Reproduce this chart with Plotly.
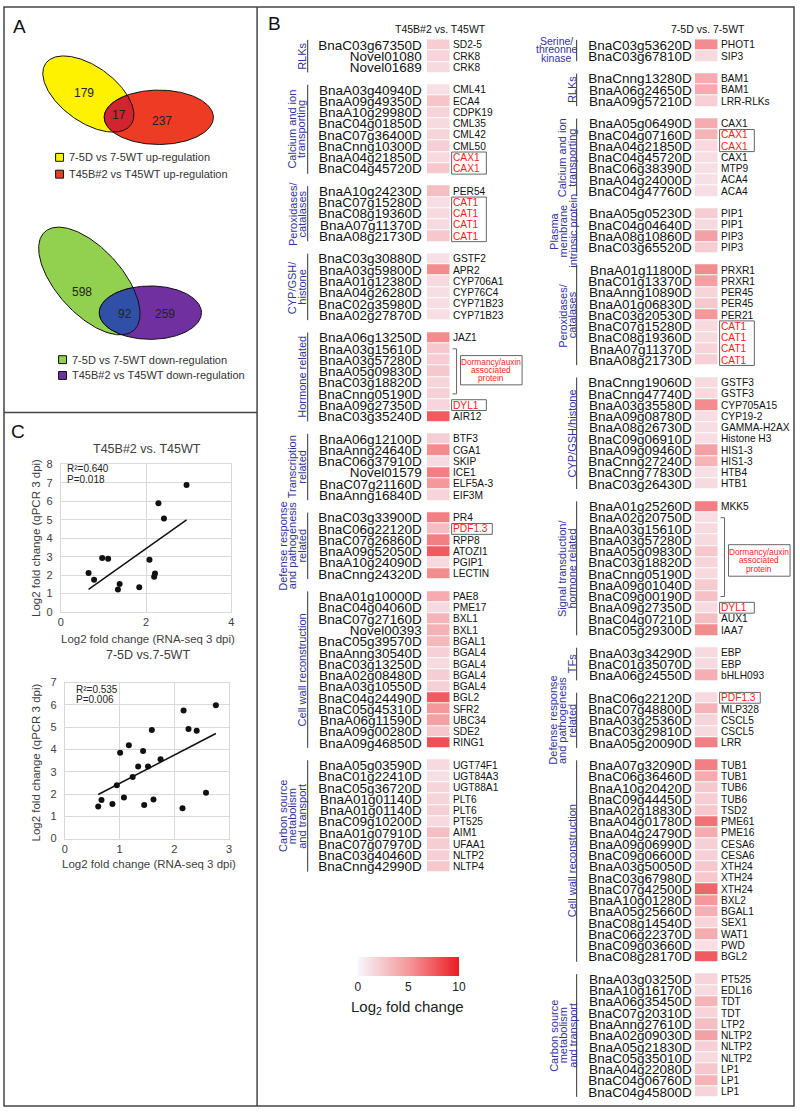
import numpy as np
import plotly.graph_objects as go

W, H = 800, 1115
ROW = 11.38          # row pitch of the heatmaps (px)
TOP = 33.6           # top edge of first heatmap slot (px)

# ---------------- data ----------------
UP_COUNTS = [179, 17, 237]
DOWN_COUNTS = [598, 92, 259]
UP_LEGEND = ["7-5D vs 7-5WT up-regulation", "T45B#2 vs T45WT up-regulation"]
DOWN_LEGEND = ["7-5D vs 7-5WT down-regulation", "T45B#2 vs T45WT down-regulation"]

L_TITLE = "T45B#2 vs. T45WT"
L_SIZES = [3, 8, 5, 6, 8, 6, 6, 14, 10]
L_GROUPS = [["RLKs"], ["Calcium and ion", "transporting"], ["Peroxidases/", "catalases"],
            ["CYP/GSH/", "histone"], ["Hormone related"], ["Transcription", "related"],
            ["Defense response", "and pathogenesis", "related"], ["Cell wall reconstruction"],
            ["Carbon source", "metabolism", "and transport"]]
L_GENES = [
    "BnaC03g67350D", "Novel01080", "Novel01689",
    "BnaA03g40940D", "BnaA09g49350D", "BnaA10g29980D", "BnaC04g01850D", "BnaC07g36400D",
    "BnaCnng10300D", "BnaA04g21850D", "BnaC04g45720D",
    "BnaA10g24230D", "BnaC07g15280D", "BnaC08g19360D", "BnaA07g11370D", "BnaA08g21730D",
    "BnaC03g30880D", "BnaA03g59800D", "BnaA01g12380D", "BnaA04g26280D", "BnaC02g35980D", "BnaA02g27870D",
    "BnaA06g13250D", "BnaA03g15610D", "BnaA03g57280D", "BnaA05g09830D", "BnaC03g18820D",
    "BnaCnng05190D", "BnaA09g27350D", "BnaC03g35240D",
    "BnaA06g12100D", "BnaAnng24640D", "BnaC06g37910D", "Novel01579", "BnaC07g21160D", "BnaAnng16840D",
    "BnaC03g33900D", "BnaC06g22120D", "BnaC07g26860D", "BnaA09g52050D", "BnaA10g24090D", "BnaCnng24320D",
    "BnaA01g10000D", "BnaC04g04060D", "BnaC07g27160D", "Novel00393", "BnaC05g39570D", "BnaAnng30540D",
    "BnaC03g13250D", "BnaA02g08480D", "BnaA03g10550D", "BnaC04g24490D", "BnaC05g45310D", "BnaA06g11590D",
    "BnaA09g00280D", "BnaA09g46850D",
    "BnaA05g03590D", "BnaC01g22410D", "BnaC05g36720D", "BnaA01g01140D", "BnaA01g01140D", "BnaC09g10200D",
    "BnaA01g07910D", "BnaC07g07970D", "BnaC03g40460D", "BnaCnng42990D",
]
L_NAMES = [
    "SD2-5", "CRK8", "CRK8",
    "CML41", "ECA4", "CDPK19", "CML35", "CML42", "CML50", "CAX1", "CAX1",
    "PER54", "CAT1", "CAT1", "CAT1", "CAT1",
    "GSTF2", "APR2", "CYP706A1", "CYP76C4", "CYP71B23", "CYP71B23",
    "JAZ1", "", "", "", "", "", "DYL1", "AIR12",
    "BTF3", "CGA1", "SKIP", "ICE1", "ELF5A-3", "EIF3M",
    "PR4", "PDF1.3", "RPP8", "ATOZI1", "PGIP1", "LECTIN",
    "PAE8", "PME17", "BXL1", "BXL1", "BGAL1", "BGAL4", "BGAL4", "BGAL4", "BGAL4", "BGL2", "SFR2",
    "UBC34", "SDE2", "RING1",
    "UGT74F1", "UGT84A3", "UGT88A1", "PLT6", "PLT6", "PT525", "AIM1", "UFAA1", "NLTP2", "NLTP4",
]
L_FC = [
    2.2, 1.8, 1.5,
    1.2, 2.6, 1.8, 1.5, 1.8, 2.0, 1.5, 2.5,
    3.0, 1.3, 1.5, 1.5, 2.5,
    1.2, 5.5, 1.5, 1.3, 1.3, 1.3,
    5.5, 2.5, 2.2, 2.5, 1.8, 2.0, 1.7, 7.5,
    2.2, 5.5, 1.4, 6.0, 5.0, 1.8,
    6.0, 3.0, 6.0, 7.5, 1.5, 5.5,
    4.0, 1.5, 3.5, 3.6, 3.3, 2.0, 1.5, 2.2, 2.0, 7.5, 5.0, 4.5, 2.5, 8.0,
    1.5, 1.2, 1.8, 1.8, 2.0, 1.5, 3.0, 2.2, 2.0, 2.5,
]
L_BOXES = [(9, 10), (12, 15), (28, 28), (37, 37)]
L_BRACKET = (23, 27)

R_TITLE = "7-5D vs. 7-5WT"
R_SIZES = [2, 3, 7, 4, 9, 10, 12, 3, 5, 18, 11]
R_GROUPS = [["Serine/", "threonne", "kinase"], ["RLKs"], ["Calcium and ion", "transporting"],
            ["Plasma", "membrane", "intrinsic protein"], ["Peroxidases/", "catalases"],
            ["CYP/GSH/histone"], ["Signal transduction/", "hormone related"], ["TFs"],
            ["Defense response", "and pathogenesis", "related"], ["Cell wall reconstruction"],
            ["Carbon source", "metabolism", "and transport"]]
R_GENES = [
    "BnaC03g53620D", "BnaC03g67810D",
    "BnaCnng13280D", "BnaA06g24650D", "BnaA09g57210D",
    "BnaA05g06490D", "BnaC04g07160D", "BnaA04g21850D", "BnaC04g45720D", "BnaC06g38390D",
    "BnaA04g24000D", "BnaC04g47760D",
    "BnaA05g05230D", "BnaC04g04640D", "BnaA08g10860D", "BnaC03g65520D",
    "BnaA01g11800D", "BnaC01g13370D", "BnaAnng10890D", "BnaA01g06830D", "BnaC03g20530D",
    "BnaC07g15280D", "BnaC08g19360D", "BnaA07g11370D", "BnaA08g21730D",
    "BnaCnng19060D", "BnaCnng47740D", "BnaA03g35580D", "BnaA09g08780D", "BnaA08g26730D",
    "BnaC09g06910D", "BnaA09g09460D", "BnaCnng27240D", "BnaCnng77830D", "BnaC03g26430D",
    "BnaA01g25260D", "BnaA02g20750D", "BnaA03g15610D", "BnaA03g57280D", "BnaA05g09830D",
    "BnaC03g18820D", "BnaCnng05190D", "BnaA09g01040D", "BnaC09g00190D", "BnaA09g27350D",
    "BnaC04g07210D", "BnaC05g29300D",
    "BnaA03g34290D", "BnaC01g35070D", "BnaA06g24550D",
    "BnaC06g22120D", "BnaC07g48800D", "BnaA03g25360D", "BnaC03g29810D", "BnaA05g20090D",
    "BnaA07g32090D", "BnaC06g36460D", "BnaA10g20420D", "BnaC09g44450D", "BnaA02g18830D",
    "BnaA04g01780D", "BnaA04g24790D", "BnaA09g06990D", "BnaC09g06600D", "BnaA03g50050D",
    "BnaC03g67980D", "BnaC07g42500D", "BnaA10g01280D", "BnaA05g25660D", "BnaC08g14540D",
    "BnaC06g22370D", "BnaC09g03660D", "BnaC08g28170D",
    "BnaA03g03250D", "BnaA10g16170D", "BnaA06g35450D", "BnaC07g20310D", "BnaAnng27610D",
    "BnaA02g09030D", "BnaA05g21830D", "BnaC05g35010D", "BnaA04g22080D", "BnaC04g06760D", "BnaC04g45800D",
]
R_NAMES = [
    "PHOT1", "SIP3",
    "BAM1", "BAM1", "LRR-RLKs",
    "CAX1", "CAX1", "CAX1", "CAX1", "MTP9", "ACA4", "ACA4",
    "PIP1", "PIP1", "PIP3", "PIP3",
    "PRXR1", "PRXR1", "PER45", "PER45", "PER21", "CAT1", "CAT1", "CAT1", "CAT1",
    "GSTF3", "GSTF3", "CYP705A15", "CYP19-2", "GAMMA-H2AX", "Histone H3", "HIS1-3", "HIS1-3", "HTB4", "HTB1",
    "MKK5", "", "", "", "", "", "", "", "", "DYL1", "AUX1", "IAA7",
    "EBP", "EBP", "bHLH093",
    "PDF1.3", "MLP328", "CSCL5", "CSCL5", "LRR",
    "TUB1", "TUB1", "TUB6", "TUB6", "TSD2", "PME61", "PME16", "CESA6", "CESA6", "XTH24", "XTH24",
    "XTH24", "BXL2", "BGAL1", "SEX1", "WAT1", "PWD", "BGL2",
    "PT525", "EDL16", "TDT", "TDT", "LTP2", "NLTP2", "NLTP2", "NLTP2", "LP1", "LP1", "LP1",
]
R_FC = [
    5.5, 1.5,
    4.0, 4.0, 2.0,
    4.0, 3.5, 1.5, 1.3, 1.2, 1.2, 1.3,
    2.2, 1.5, 4.5, 2.2,
    5.5, 4.5, 1.8, 2.5, 5.0, 1.5, 1.5, 1.8, 2.0,
    1.5, 1.5, 5.5, 1.3, 1.3, 1.3, 4.5, 3.5, 1.2, 1.5,
    6.0, 1.3, 1.5, 1.5, 2.5, 1.8, 1.5, 2.3, 2.8, 1.5, 3.0, 5.5,
    1.5, 1.5, 3.8,
    1.5, 3.5, 1.8, 1.5, 6.0,
    6.0, 4.0, 2.5, 2.2, 2.5, 6.5, 4.0, 2.0, 2.0, 2.5, 2.5, 7.0, 5.0, 3.8, 1.8, 4.0, 1.2, 7.5,
    1.8, 1.5, 3.5, 1.8, 3.0, 4.5, 2.0, 1.5, 2.5, 3.5, 1.8,
]
R_BOXES = [(6, 7), (21, 24), (44, 44), (50, 50)]
R_BRACKET = (36, 43)
DORMANCY = ["Dormancy/auxin", "associated", "protein"]

C1_TITLE = "T45B#2 vs. T45WT"
C1_RNA = [0.65, 0.78, 0.97, 1.11, 1.34, 1.38, 1.84, 2.08, 2.19, 2.21, 2.29, 2.42, 2.95]
C1_QPCR = [2.11, 1.75, 2.93, 2.89, 1.22, 1.52, 1.34, 2.84, 1.91, 2.09, 5.89, 5.06, 6.88]
C1_STATS = ["R²=0.640", "P=0.018"]
C2_TITLE = "7-5D vs.7-5WT"
C2_RNA = [0.61, 0.67, 0.87, 0.95, 1.01, 1.08, 1.17, 1.24, 1.34, 1.43, 1.45, 1.52, 1.59, 1.62,
          1.75, 2.15, 2.17, 2.26, 2.41, 2.58, 2.76]
C2_QPCR = [1.44, 1.73, 1.56, 2.40, 3.85, 1.85, 4.19, 2.77, 3.24, 3.93, 1.51, 3.24, 4.88, 1.76,
           3.56, 1.36, 5.75, 4.92, 4.84, 2.06, 5.99]
C2_STATS = ["R²=0.535", "P=0.006"]

# ---------------- helpers ----------------
FONT = "Liberation Sans"
BLUE = "#33339c"
RED = "#ff1a1a"


def fx(px):
    return px / W


def fy(py):
    return 1 - py / H


def slot_positions(sizes):
    out, s = [], 0
    for n in sizes:
        out.extend(range(s, s + n))
        s += n + 1
    return out, s - 1


def ellipse(cx, cy, a, b, deg, n=300):
    t = np.linspace(0, 2 * np.pi, n)
    th = np.deg2rad(deg)
    x = cx + a * np.cos(t) * np.cos(th) - b * np.sin(t) * np.sin(th)
    y = cy + a * np.cos(t) * np.sin(th) + b * np.sin(t) * np.cos(th)
    return x, y


def inside(x, y, cx, cy, a, b, deg):
    th = np.deg2rad(deg)
    dx, dy = x - cx, y - cy
    u = dx * np.cos(th) + dy * np.sin(th)
    v = -dx * np.sin(th) + dy * np.cos(th)
    return (u / a) ** 2 + (v / b) ** 2 <= 1


def lens(e1, e2):
    x1, y1 = ellipse(*e1)
    x2, y2 = ellipse(*e2)
    m1, m2 = inside(x1, y1, *e2), inside(x2, y2, *e1)
    px = np.concatenate([x1[m1], x2[m2]])
    py = np.concatenate([y1[m1], y2[m2]])
    o = np.argsort(np.arctan2(py - py.mean(), px - px.mean()))
    return np.append(px[o], px[o][0]), np.append(py[o], py[o][0])


fig = go.Figure()
shapes, anns = [], []

# ---------------- panel A: Venn diagrams ----------------
venns = [
    ((86, 89, 53, 28, 36), (157, 112.5, 55, 27.5, 0), ["#fff200", "#ee3b24", "#d12330"],
     UP_COUNTS, [(82, 88), (117, 110), (160, 116)]),
    ((87, 278, 67, 33, 48), (148.5, 310, 51.5, 27, 0), ["#92d050", "#7030a0", "#3050a8"],
     DOWN_COUNTS, [(80, 289), (123, 311), (163, 311)]),
]
for e1, e2, cols, counts, pos in venns:
    for e, c in ((e1, cols[0]), (e2, cols[1])):
        x, y = ellipse(*e)
        fig.add_trace(go.Scatter(x=x, y=y, mode="lines", fill="toself", fillcolor=c,
                                 line=dict(color="#111", width=1), hoverinfo="skip", showlegend=False))
    lx, ly = lens(e1, e2)
    fig.add_trace(go.Scatter(x=lx, y=ly, mode="lines", fill="toself", fillcolor=cols[2],
                             line=dict(color="#111", width=1), hoverinfo="skip", showlegend=False))
    for v, (x, y) in zip(counts, pos):
        anns.append(dict(text=str(v), x=x, y=y, xref="x", yref="y", showarrow=False,
                         font=dict(size=12, color="#222")))

legends = [(UP_LEGEND, ["#fff200", "#ee3b24"], 53, [153, 170]),
           (DOWN_LEGEND, ["#92d050", "#7030a0"], 56, [357.5, 373.5])]
for texts, cols, x0, ys in legends:
    for t, c, y in zip(texts, cols, ys):
        shapes.append(dict(type="rect", xref="x", yref="y", x0=x0, x1=x0 + 8, y0=y - 4, y1=y + 4,
                           fillcolor=c, line=dict(color="#111", width=1)))
        anns.append(dict(text=t, x=x0 + 11, y=y, xref="x", yref="y", xanchor="left", showarrow=False,
                         font=dict(size=11, color="#333")))

# ---------------- panel B: heatmaps ----------------
colorscale = [[0, "#f7f6fd"], [0.5, "#f4989b"], [1, "#ec1c24"]]
columns = [
    dict(genes=L_GENES, names=L_NAMES, fc=L_FC, sizes=L_SIZES, groups=L_GROUPS, boxes=L_BOXES,
         bracket=L_BRACKET, title=L_TITLE, hx=(427, 450), line_x=307, last_x=301, ax="2",
         box_x=452, dorm=(461, 523, 27.6, 30.2), standoff=4, horiz=()),
    dict(genes=R_GENES, names=R_NAMES, fc=R_FC, sizes=R_SIZES, groups=R_GROUPS, boxes=R_BOXES,
         bracket=R_BRACKET, title=R_TITLE, hx=(697, 720), line_x=578, last_x=573.5, ax="3",
         box_x=722, dorm=(731, 793, 44.4, 47.2), standoff=2, horiz=(0,)),
]
for ci, col in enumerate(columns):
    pos, nslots = slot_positions(col["sizes"])
    zcol = [None] * nslots
    for s, v in zip(pos, col["fc"]):
        zcol[s] = v
    xa, ya = "x" + col["ax"], "y" + col["ax"]
    hm = go.Heatmap(z=[[v] for v in zcol], x=[0], y=list(range(nslots)), xaxis=xa, yaxis=ya,
                    colorscale=colorscale, zmin=0, zmax=10, ygap=1, hoverinfo="skip",
                    showscale=(ci == 0))
    if ci == 0:
        hm.colorbar = dict(orientation="h", x=fx(408.5), xanchor="center", y=fy(961), yanchor="top",
                           xpad=0, ypad=0, len=101, lenmode="pixels", thickness=19, outlinewidth=0,
                           tickvals=[0, 5, 10], ticks="", tickfont=dict(size=12, color="#222"))
    fig.add_trace(hm)
    fig.update_layout(**{
        "xaxis" + col["ax"]: dict(domain=[fx(col["hx"][0]), fx(col["hx"][1])], range=[-0.5, 0.5],
                                  anchor=ya, visible=False, fixedrange=True),
        "yaxis" + col["ax"]: dict(domain=[fy(TOP + nslots * ROW), fy(TOP)], range=[nslots - 0.5, -0.5],
                                  anchor=xa, tickmode="array", tickvals=pos, ticktext=col["genes"],
                                  ticks="", ticklabelstandoff=col["standoff"], showgrid=False,
                                  zeroline=False, showline=False, fixedrange=True,
                                  tickfont=dict(size=13.5, color="#111")),
    })
    red_rows = {r for a, b in col["boxes"] for r in range(a, b + 1)}
    for r, (s, name) in enumerate(zip(pos, col["names"])):
        if name:
            anns.append(dict(text=name, x=1, xref=xa + " domain", xshift=1, xanchor="left", y=s, yref=ya,
                             showarrow=False, font=dict(size=10.2, color=RED if r in red_rows else "#111")))
    for a, b in col["boxes"]:
        wide = max(len(col["names"][r]) for r in range(a, b + 1))
        shapes.append(dict(type="rect", xref="x", yref=ya, x0=col["box_x"],
                           x1=col["box_x"] + (41 if wide > 4 else 35),
                           y0=pos[a] - 0.48, y1=pos[b] + 0.48, line=dict(color="#666", width=1)))
    b0, b1 = pos[col["bracket"][0]], pos[col["bracket"][1]]
    bx = col["box_x"] + 5
    shapes.append(dict(type="path", xref="x", yref=ya,
                       path=f"M {bx - 4},{b0} L {bx},{b0} L {bx},{b1} L {bx - 4},{b1}",
                       line=dict(color="#666", width=1)))
    dx0, dx1, dy0, dy1 = col["dorm"]
    shapes.append(dict(type="rect", xref="x", yref=ya, x0=dx0, x1=dx1, y0=dy0, y1=dy1,
                       line=dict(color="#666", width=1)))
    for i, t in enumerate(DORMANCY):
        anns.append(dict(text=t, x=(dx0 + dx1) / 2, xref="x", y=(dy0 + dy1) / 2, yref=ya,
                         yshift=-(i - 1) * 8.2, showarrow=False, font=dict(size=8.3, color=RED)))
    anns.append(dict(text=col["title"], x=(col["hx"][0] + col["hx"][1]) / 2 + 2, y=23, xref="x", yref="y",
                     showarrow=False, font=dict(size=10.5, color="#111")))
    start = 0
    for k, (n, lines) in enumerate(zip(col["sizes"], col["groups"])):
        s0, s1 = pos[start], pos[start + n - 1]
        shapes.append(dict(type="line", xref="x", yref=ya, x0=col["line_x"], x1=col["line_x"],
                           y0=s0 - 0.45, y1=s1 + 0.45, line=dict(color="#333", width=1)))
        if k in col["horiz"]:
            for i, t in enumerate(lines):
                anns.append(dict(text=t, x=558, xref="x", y=(s0 + s1) / 2, yref=ya,
                                 yshift=-(i - (len(lines) - 1) / 2) * 8.4 + 1, showarrow=False,
                                 font=dict(size=10.5, color=BLUE)))
        else:
            for i, t in enumerate(lines):
                anns.append(dict(text=t, x=col["last_x"] - (len(lines) - 1 - i) * 9.5, xref="x",
                                 y=(s0 + s1) / 2, yref=ya, textangle=-90, showarrow=False,
                                 font=dict(size=11, color=BLUE)))
        start += n

anns.append(dict(text="Log<sub>2</sub> fold change", x=408, y=1012, xref="x", yref="y", showarrow=False,
                 font=dict(size=15, color="#222")))

# ---------------- panel C: scatter plots ----------------
scatters = [
    (C1_RNA, C1_QPCR, "4", (58.3, 230), (463.3, 612.7), [0, 4], 2, [0, 8], C1_TITLE, 448, C1_STATS,
     (62, 468), 640, 538),
    (C2_RNA, C2_QPCR, "5", (62.3, 227.7), (684, 841.7), [0, 3], 1, [0, 7], C2_TITLE, 656, C2_STATS,
     (72, 691), 867, 765),
]
for xs, ys, ax, (x0, x1), (y0, y1), xr, xd, yr, title, ty, stats, (sx, sy), xt_y, yt_y in scatters:
    xa, ya = "x" + ax, "y" + ax
    fig.add_trace(go.Scatter(x=xs, y=ys, mode="markers", xaxis=xa, yaxis=ya, showlegend=False,
                             marker=dict(size=6, color="#111"), hoverinfo="skip"))
    k, b = np.polyfit(xs, ys, 1)
    tx = np.array([min(xs), max(xs)])
    fig.add_trace(go.Scatter(x=tx, y=k * tx + b, mode="lines", xaxis=xa, yaxis=ya, showlegend=False,
                             line=dict(color="#111", width=1.5), hoverinfo="skip"))
    common = dict(showgrid=True, gridcolor="#d9d9d9", showline=True, linecolor="#d9d9d9", mirror=True,
                  zeroline=False, ticks="", fixedrange=True, tickfont=dict(size=11, color="#404040"))
    fig.update_layout(**{
        "xaxis" + ax: dict(domain=[fx(x0), fx(x1)], range=xr, dtick=xd, anchor=ya, **common),
        "yaxis" + ax: dict(domain=[fy(y1), fy(y0)], range=yr, dtick=1, anchor=xa, ticklabelstandoff=5,
                           **common),
    })
    anns.append(dict(text=title, x=(x0 + x1) / 2 + 1, y=ty, xref="x", yref="y", showarrow=False,
                     font=dict(size=12.5, color="#404040")))
    for i, t in enumerate(stats):
        anns.append(dict(text=t, x=sx, y=sy + i * 10.5, xref="x", yref="y", xanchor="left", showarrow=False,
                         font=dict(size=10, color="#222")))
    anns.append(dict(text="Log2 fold change (RNA-seq 3 dpi)", x=(x0 + x1) / 2 + 2, y=xt_y, xref="x", yref="y",
                     showarrow=False, font=dict(size=11.5, color="#404040")))
    anns.append(dict(text="Log2 fold change (qPCR 3 dpi)", x=33, y=yt_y, xref="x", yref="y", textangle=-90,
                     showarrow=False, font=dict(size=11.5, color="#404040")))

# ---------------- frames and panel letters ----------------
frame = dict(color="#444", width=1.5)
shapes += [
    dict(type="rect", xref="x", yref="y", x0=1, x1=797, y0=1, y1=1112, line=frame),
    dict(type="line", xref="x", yref="y", x0=256, x1=256, y0=1, y1=1112, line=frame),
    dict(type="line", xref="x", yref="y", x0=1, x1=256, y0=411, y1=411, line=frame),
]
for t, x, y in (("A", 17, 21), ("B", 274, 18), ("C", 15, 430)):
    anns.append(dict(text=t, x=x, y=y, xref="x", yref="y", showarrow=False, font=dict(size=19, color="#111")))

fig.update_layout(
    width=W, height=H, margin=dict(l=0, r=0, t=0, b=0),
    paper_bgcolor="white", plot_bgcolor="rgba(0,0,0,0)",
    font=dict(family=FONT, color="#111"),
    xaxis=dict(domain=[0, 1], range=[0, W], visible=False, fixedrange=True),
    yaxis=dict(domain=[0, 1], range=[H, 0], visible=False, fixedrange=True),
    shapes=shapes, annotations=anns, showlegend=False,
)

# the default page body has an 8px margin; drop it so the figure sits at the window origin
fig.write_html("out.html", config={"displayModeBar": False},
               post_script="document.body.style.margin='0';")
